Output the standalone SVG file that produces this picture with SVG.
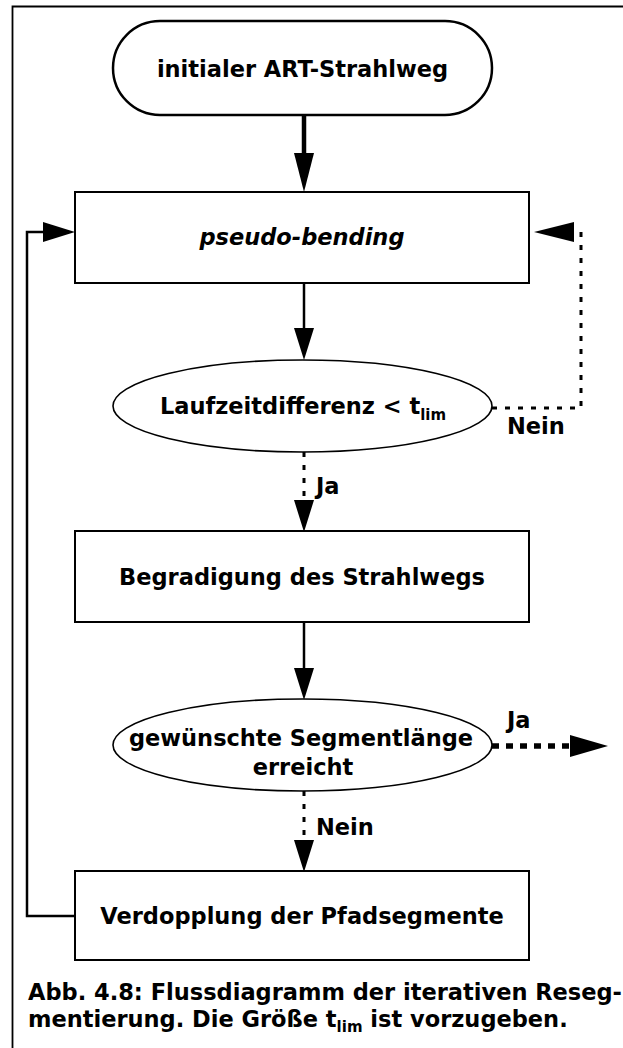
<svg xmlns="http://www.w3.org/2000/svg" width="623" height="1048" viewBox="0 0 623 1048">
<style>
text{font-family:"DejaVu Sans","Liberation Sans",sans-serif;font-weight:bold;font-size:22.5px;fill:#000}
.c{text-anchor:middle}
.it{font-style:italic}
.sub{font-size:15px}
.box{fill:#fff;stroke:#000;stroke-width:2}
.term{fill:#fff;stroke:#000;stroke-width:2.5}
.ell{fill:#fff;stroke:#000;stroke-width:1.6}
.ln{fill:none;stroke:#000;stroke-width:2.5}
.thick{fill:none;stroke:#000;stroke-width:4.5}
.dot{fill:none;stroke:#000;stroke-width:3;stroke-dasharray:5 8}
.dotb{fill:none;stroke:#000;stroke-width:5.5;stroke-dasharray:7 7}
</style>
<defs>
<marker id="ah" markerUnits="userSpaceOnUse" viewBox="0 0 32 20" markerWidth="32" markerHeight="20" refX="0" refY="10" orient="auto"><path d="M0,0 L32,10 L0,20 z" fill="#000"/></marker>
<marker id="ahL" markerUnits="userSpaceOnUse" viewBox="0 0 39 20" markerWidth="39" markerHeight="20" refX="0" refY="10" orient="auto"><path d="M0,0 L39,10 L0,20 z" fill="#000"/></marker>
<marker id="ahW" markerUnits="userSpaceOnUse" viewBox="0 0 40 20" markerWidth="40" markerHeight="20" refX="0" refY="10" orient="auto"><path d="M0,0 L40,10 L0,20 z" fill="#000"/></marker>
<marker id="ahB" markerUnits="userSpaceOnUse" viewBox="0 0 38 22" markerWidth="38" markerHeight="22" refX="0" refY="11" orient="auto"><path d="M0,0 L38,11 L0,22 z" fill="#000"/></marker>
</defs>
<rect width="623" height="1048" fill="#fff"/>
<path d="M12.5,1048 V6.5 H623" fill="none" stroke="#000" stroke-width="1.8"/>
<g id="connectors">
<path class="thick" d="M304,115 V153" marker-end="url(#ahL)"/>
<path class="ln" d="M304,283 V328" marker-end="url(#ah)"/>
<path class="dot" d="M304,452 V500" marker-end="url(#ah)"/>
<path class="ln" d="M304,622 V668" marker-end="url(#ah)"/>
<path class="dot" d="M304,791 V840" marker-end="url(#ah)"/>
<path class="dot" d="M492,408 H581 V232 H574" marker-end="url(#ahW)"/>
<path class="ln" d="M75,916 H27 V232 H43" marker-end="url(#ah)"/>
<path class="dotb" d="M492,746 H570" marker-end="url(#ahB)"/>
<text x="316" y="494">Ja</text>
<text x="507" y="434">Nein</text>
<text x="507" y="728">Ja</text>
<text x="316" y="835">Nein</text>
</g>
<g id="start">
<rect class="term" x="113" y="21" width="379" height="94" rx="47" ry="47"/>
<text class="c" x="302.5" y="77">initialer ART-Strahlweg</text>
</g>
<g id="pseudo">
<rect class="box" x="75" y="192" width="454" height="91"/>
<text class="c it" x="302" y="245">pseudo-bending</text>
</g>
<g id="laufzeit">
<ellipse class="ell" cx="302.5" cy="406" rx="189.5" ry="46"/>
<text class="c" x="303" y="414">Laufzeitdifferenz &lt; t<tspan class="sub" dy="6">lim</tspan></text>
</g>
<g id="begradigung">
<rect class="box" x="75" y="531" width="454" height="91"/>
<text class="c" x="302" y="585">Begradigung des Strahlwegs</text>
</g>
<g id="segment">
<ellipse class="ell" cx="302.5" cy="745" rx="189.5" ry="46"/>
<text class="c" x="301" y="746">gewünschte Segmentlänge</text>
<text class="c" x="303" y="775">erreicht</text>
</g>
<g id="verdopplung">
<rect class="box" x="75" y="871" width="454" height="89"/>
<text class="c" x="302" y="924">Verdopplung der Pfadsegmente</text>
</g>
<g id="caption">
<text x="28" y="1000">Abb. 4.8: Flussdiagramm der iterativen Reseg-</text>
<text x="28" y="1027">mentierung. Die Größe t<tspan class="sub" dy="5">lim</tspan><tspan dy="-5"> ist vorzugeben.</tspan></text>
</g>
</svg>
